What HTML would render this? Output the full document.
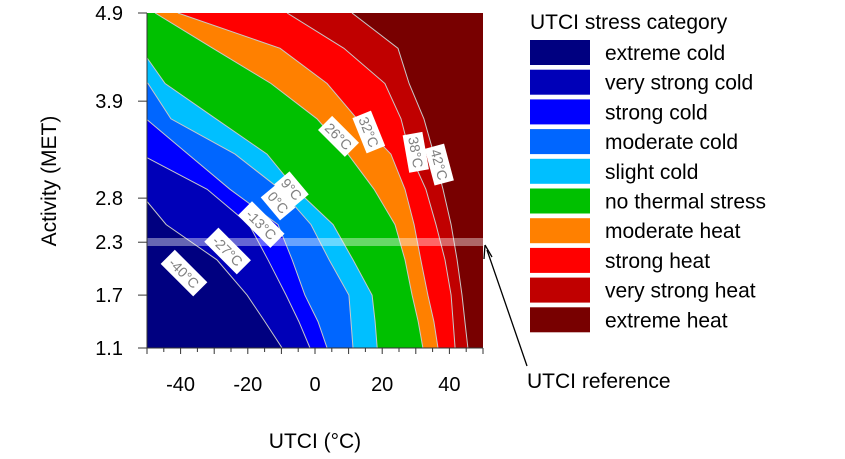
<!DOCTYPE html>
<html><head><meta charset="utf-8">
<style>
html,body{margin:0;padding:0;background:#fff;}
svg{display:block;font-family:"Liberation Sans",Arial,sans-serif;}
</style></head>
<body>
<svg id="chart" width="845" height="459" viewBox="0 0 845 459" xmlns="http://www.w3.org/2000/svg">
<defs><clipPath id="plotclip"><rect x="147" y="13" width="336" height="335"/></clipPath></defs>
<g id="bands" clip-path="url(#plotclip)"></g>
<g id="lines" clip-path="url(#plotclip)"></g>
<rect x="147" y="238" width="336" height="8" fill="#ffffff" fill-opacity="0.4"/>
<g id="clabels"></g>
<g id="axes"></g>
<text x="315" y="448" font-size="21" text-anchor="middle">UTCI (°C)</text>
<text transform="translate(56,181) rotate(-90)" font-size="21" text-anchor="middle">Activity (MET)</text>
<g id="legend"></g>
<g>
<line x1="527" y1="366" x2="487" y2="250" stroke="#000" stroke-width="1.3"/>
<path d="M485,245 L484,259 M485,245 L492,257" stroke="#000" stroke-width="1.3" fill="none"/>
<text x="527" y="388" font-size="21">UTCI reference</text>
</g>
</svg>
<script>
// Data
var activityLevels = [4.9,4.5,4.1,3.7,3.3,2.9,2.5,2.1,1.7,1.4,1.1];
var thresholdsC = [-40,-27,-13,0,9,26,32,38,46];
var boundary_m40 = [-125,-110,-95,-80,-65,-53,-44.3,-29.2,-20.2,-14.9,-9.8];
var boundary_m27 = [-110,-95,-80,-65,-52,-32.1,-19.6,-14,-8.6,-4.8,-1.5];
var boundary_m13 = [-90,-80,-65,-50.3,-37.8,-25.3,-11,-6.8,-3,0.9,3.6];
var boundary_0 = [-70,-62,-49.7,-42.9,-23.8,-10.4,-1.2,4.2,10.1,10.7,11.3];
var boundary_9 = [-58,-52,-44.6,-29.5,-14.3,-5.7,5.4,11.3,17,17.9,18.5];
var boundary_26 = [-47.6,-30.4,-13.1,0.6,9.8,17.6,23.8,26.8,28.9,30.7,32.1];
var boundary_32 = [-40.8,-10.4,3.6,12.5,22.6,26.8,29.5,31.5,33.6,35.4,36.6];
var boundary_38 = [-8.3,8.6,20.8,25.6,28.3,33,36,38.7,40.5,41.1,41.7];
var boundary_46 = [11,24.7,28,32.4,35.4,38.1,40.5,42.3,43.75,44.6,45.5];
var categories = ["extreme cold","very strong cold","strong cold","moderate cold","slight cold","no thermal stress","moderate heat","strong heat","very strong heat","extreme heat"];
var categoryColors = ["#000080","#0000b8","#0000ff","#0066ff","#00bfff","#00c000","#ff8000","#ff0000","#c00000","#780000"];
var xTicks = [-40,-20,0,20,40];
var yTicks = [4.9,3.9,2.8,2.3,1.7,1.1];
var contourLabels = ["-40°C","-27°C","-13°C","0°C","9°C","26°C","32°C","38°C","42°C"];
var labelUtci = [-39,-26,-16,-11,-7,7,16,30,37];
var labelMet = [1.95,2.2,2.5,2.75,2.9,3.5,3.55,3.32,3.18];
var labelAngle = [45,45,45,50,50,45,68,80,75];

var boundaries = [boundary_m40,boundary_m27,boundary_m13,boundary_0,boundary_9,boundary_26,boundary_32,boundary_38,boundary_46];
var X0=147,X1=483,Y0=348,Y1=13;
function xs(u){return X0+(u+50)/100*(X1-X0);}
function ys(m){return Y0-(m-1.1)/(4.9-1.1)*(Y0-Y1);}
var NS="http://www.w3.org/2000/svg";
function mk(tag,attrs,parent){var e=document.createElementNS(NS,tag);for(var k in attrs)e.setAttribute(k,attrs[k]);parent.appendChild(e);return e;}
function curvePts(b){var p=[];for(var i=0;i<activityLevels.length;i++)p.push(xs(b[i]).toFixed(1)+","+ys(activityLevels[i]).toFixed(1));return p;}

var bands=document.getElementById('bands');
var bg=mk('rect',{x:X0,y:Y1,width:X1-X0,height:Y0-Y1,fill:categoryColors[0]},bands);


for(var b=0;b<boundaries.length;b++){
  var pts=curvePts(boundaries[b]);
  pts.push("600,"+ys(1.1)); pts.push("600,"+ys(4.9));
  var pg=mk('polygon',{points:pts.join(" "),fill:categoryColors[b+1]},bands);
  
  
}
var lines=document.getElementById('lines');
for(var b=0;b<boundaries.length;b++){
  var pl=mk('polyline',{points:curvePts(boundaries[b]).join(" "),fill:"none",stroke:"#c8c8c8","stroke-width":1},lines);
  
  
}
var cl=document.getElementById('clabels');
for(var i=0;i<contourLabels.length;i++){
  var g=mk('g',{transform:"translate("+xs(labelUtci[i]).toFixed(1)+","+ys(labelMet[i]).toFixed(1)+") rotate("+labelAngle[i]+")"},cl);
  
  
  var w=contourLabels[i].length*8+6;
  mk('rect',{x:-w/2,y:-10,width:w,height:20,fill:"#fff"},g);
  var t=mk('text',{x:0,y:5,"font-size":14,"text-anchor":"middle",fill:"#808080"},g);
  t.textContent=contourLabels[i];
}
var ax=document.getElementById('axes');
mk('line',{x1:X0,y1:Y1,x2:X0,y2:Y0+1,stroke:"#333","stroke-width":1},ax);
mk('line',{x1:X0,y1:Y0,x2:X1,y2:Y0,stroke:"#333","stroke-width":1},ax);
for(var u=-50;u<=50;u+=5){
  mk('line',{x1:xs(u),y1:Y0,x2:xs(u),y2:Y0+(u%10===0?6:4),stroke:"#333"},ax);
}
for(var i=0;i<xTicks.length;i++){
  var t=mk('text',{x:xs(xTicks[i]),y:Y0+43,"font-size":20,"text-anchor":"middle"},ax);
  
  
  t.textContent=xTicks[i];
}
for(var i=0;i<yTicks.length;i++){
  mk('line',{x1:X0-9,y1:ys(yTicks[i]),x2:X0,y2:ys(yTicks[i]),stroke:"#333"},ax);
  var t=mk('text',{x:123,y:ys(yTicks[i])+7,"font-size":20,"text-anchor":"end"},ax);
  
  
  t.textContent=yTicks[i].toFixed(1);
}
var lg=document.getElementById('legend');
var tt=mk('text',{x:530,y:29,"font-size":21},lg);


tt.textContent="UTCI stress category";
for(var i=0;i<categories.length;i++){
  var y=40+i*29.7;
  var g=mk('g',{},lg);
  
  
  mk('rect',{x:530,y:y,width:60,height:25,fill:categoryColors[i]},g);
  var t=mk('text',{x:605,y:y+20,"font-size":21},g);
  t.textContent=categories[i];
}
</script>
</body></html>
